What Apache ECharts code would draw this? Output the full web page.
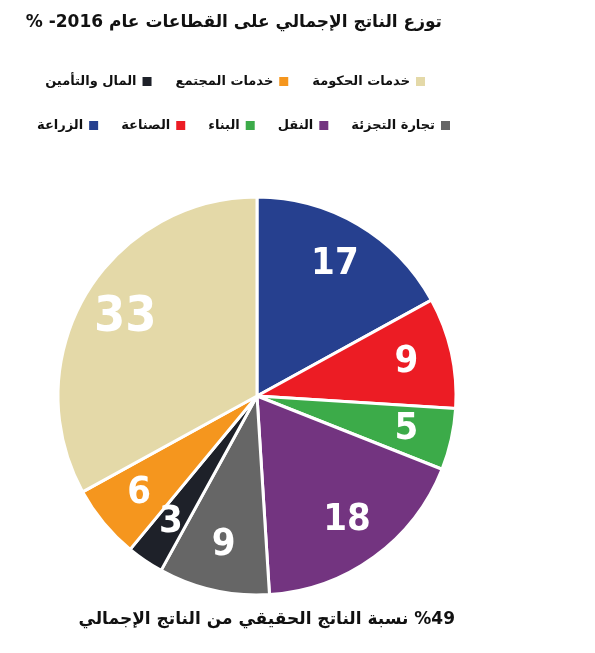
<!DOCTYPE html>
<html>
<head>
<meta charset="utf-8">
<script src="https://cdn.jsdelivr.net/npm/echarts@6/dist/echarts.min.js"></script>
<style>
html,body{margin:0;padding:0;background:#fff;}
#chart{width:595px;height:653px;direction:rtl;}
</style>
</head>
<body>
<div id="chart"></div>
<script>
// Data
const titleText = 'توزع الناتج الإجمالي على القطاعات عام 2016- %';
const footText = '%49 نسبة الناتج الحقيقي من الناتج الإجمالي';
const sectors = ['الزراعة', 'الصناعة', 'البناء', 'النقل', 'تجارة التجزئة', 'المال والتأمين', 'خدمات المجتمع', 'خدمات الحكومة'];
const shares = [17, 9, 5, 18, 9, 3, 6, 33];
const colors = ['#26408f', '#ec1c24', '#3cab49', '#733480', '#666666', '#1e2129', '#f5961e', '#e4d9a8'];
const legendRow1 = ['المال والتأمين', 'خدمات المجتمع', 'خدمات الحكومة'];
const legendRow2 = ['الزراعة', 'الصناعة', 'البناء', 'النقل', 'تجارة التجزئة'];

const arabicFont = "'DejaVu Sans', sans-serif";
const numFont = "'DejaVu Sans Condensed', 'DejaVu Sans', sans-serif";
const pieCenter = [257, 396];
const pieRadius = 199;
const labelRingRadius = 300; // invisible ring whose mid-radius carries the value labels

const chart = echarts.init(document.getElementById('chart'), null, {renderer: 'canvas'});
const maxShare = Math.max(...shares);
const option = {
  backgroundColor: '#ffffff',
  animation: false,
  color: colors,
  title: [
    {
      text: titleText, right: 148, top: 9,
      textStyle: {fontFamily: arabicFont, fontWeight: 'bold', fontSize: 17, color: '#111'}
    },
    {
      text: footText, right: 135, top: 606,
      textStyle: {fontFamily: arabicFont, fontWeight: 'bold', fontSize: 17, color: '#111'}
    }
  ],
  legend: [
    {
      data: legendRow1, right: 163, top: 70, width: 580, align: 'right', icon: 'rect',
      itemWidth: 11, itemHeight: 11, itemGap: 22,
      textStyle: {fontFamily: arabicFont, fontWeight: 'bold', fontSize: 13, color: '#111'}
    },
    {
      data: legendRow2, right: 138, top: 114, width: 580, align: 'right', icon: 'rect',
      itemWidth: 11, itemHeight: 11, itemGap: 21,
      textStyle: {fontFamily: arabicFont, fontWeight: 'bold', fontSize: 13, color: '#111'}
    }
  ],
  series: [
    {
      type: 'pie',
      center: pieCenter,
      radius: [0, pieRadius],
      startAngle: 90,
      clockwise: true,
      silent: true,
      itemStyle: {borderColor: '#ffffff', borderWidth: 3},
      label: {show: false},
      labelLine: {show: false},
      data: sectors.map((n, i) => ({name: n, value: shares[i]}))
    },
    {
      type: 'pie',
      center: pieCenter,
      radius: [0, labelRingRadius],
      startAngle: 90,
      clockwise: true,
      silent: true,
      z: 5,
      itemStyle: {color: 'rgba(0,0,0,0)', borderWidth: 0},
      label: {
        show: true, position: 'inside', formatter: '{c}',
        color: '#ffffff', fontFamily: numFont, fontWeight: 'bold', fontSize: 38
      },
      labelLine: {show: false},
      data: sectors.map((n, i) => ({
        name: n, value: shares[i],
        label: shares[i] === maxShare ? {fontSize: 50} : undefined
      }))
    }
  ]
};
chart.setOption(option);
</script>
</body>
</html>
